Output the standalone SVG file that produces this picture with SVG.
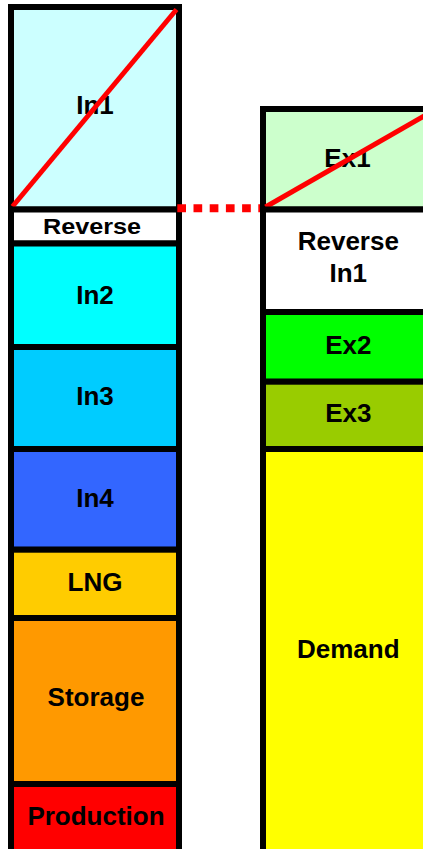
<svg xmlns="http://www.w3.org/2000/svg" width="423" height="849" viewBox="0 0 423 849">
<style>
.box{stroke:#000;stroke-width:6}
.lbl{font-family:"Liberation Sans",Arial,sans-serif;font-weight:bold;font-size:26px;text-anchor:middle;fill:#000}
.diag{stroke:#FF0000;stroke-width:5;fill:none}
</style>
<rect width="423" height="849" fill="#fff"/>
<g id="left-column">
<g id="in1"><rect class="box" x="11" y="7" width="168" height="202.5" fill="#CCFFFF"/><text class="lbl" x="95" y="113.5">In1</text><line class="diag" x1="12.5" y1="206.5" x2="176.5" y2="9.5"/></g>
<g id="reverse"><rect class="box" x="11" y="209.5" width="168" height="34" fill="#FFFFFF"/><text class="lbl" transform="translate(92,234) scale(0.97,0.82)" x="0" y="0">Reverse</text></g>
<g id="in2"><rect class="box" x="11" y="243.5" width="168" height="103.5" fill="#00FFFF"/><text class="lbl" x="95" y="304">In2</text></g>
<g id="in3"><rect class="box" x="11" y="347" width="168" height="102" fill="#00CCFF"/><text class="lbl" x="95" y="405">In3</text></g>
<g id="in4"><rect class="box" x="11" y="449" width="168" height="100.7" fill="#3366FF"/><text class="lbl" x="95" y="507">In4</text></g>
<g id="lng"><rect class="box" x="11" y="549.7" width="168" height="68.3" fill="#FFCC00"/><text class="lbl" x="95" y="590.5">LNG</text></g>
<g id="storage"><rect class="box" x="11" y="618" width="168" height="166" fill="#FF9900"/><text class="lbl" x="96" y="706">Storage</text></g>
<g id="production"><rect class="box" x="11" y="784" width="168" height="80" fill="#FF0000"/><text class="lbl" x="96" y="825">Production</text></g>
</g>
<g id="connectors">
<line x1="177.3" y1="208.3" x2="263" y2="208.3" stroke="#FF0000" stroke-width="8" stroke-dasharray="8.7 7.5"/>
</g>
<g id="right-column">
<g id="ex1"><rect class="box" x="263" y="109" width="170" height="100.5" fill="#CCFFCC"/><text class="lbl" x="347.5" y="167">Ex1</text><line class="diag" x1="265.5" y1="207" x2="433" y2="111"/></g>
<g id="reverse-in1"><rect class="box" x="263" y="209.5" width="170" height="102.5" fill="#FFFFFF"/><text class="lbl" x="348.3" y="250">Reverse</text><text class="lbl" x="348.3" y="281.7">In1</text></g>
<g id="ex2"><rect class="box" x="263" y="312" width="170" height="69.7" fill="#00FF00"/><text class="lbl" x="348.3" y="354">Ex2</text></g>
<g id="ex3"><rect class="box" x="263" y="381.7" width="170" height="67.3" fill="#99CC00"/><text class="lbl" x="348.3" y="422">Ex3</text></g>
<g id="demand"><rect class="box" x="263" y="449" width="170" height="415" fill="#FFFF00"/><text class="lbl" x="348.3" y="658.3">Demand</text></g>
</g>
</svg>
